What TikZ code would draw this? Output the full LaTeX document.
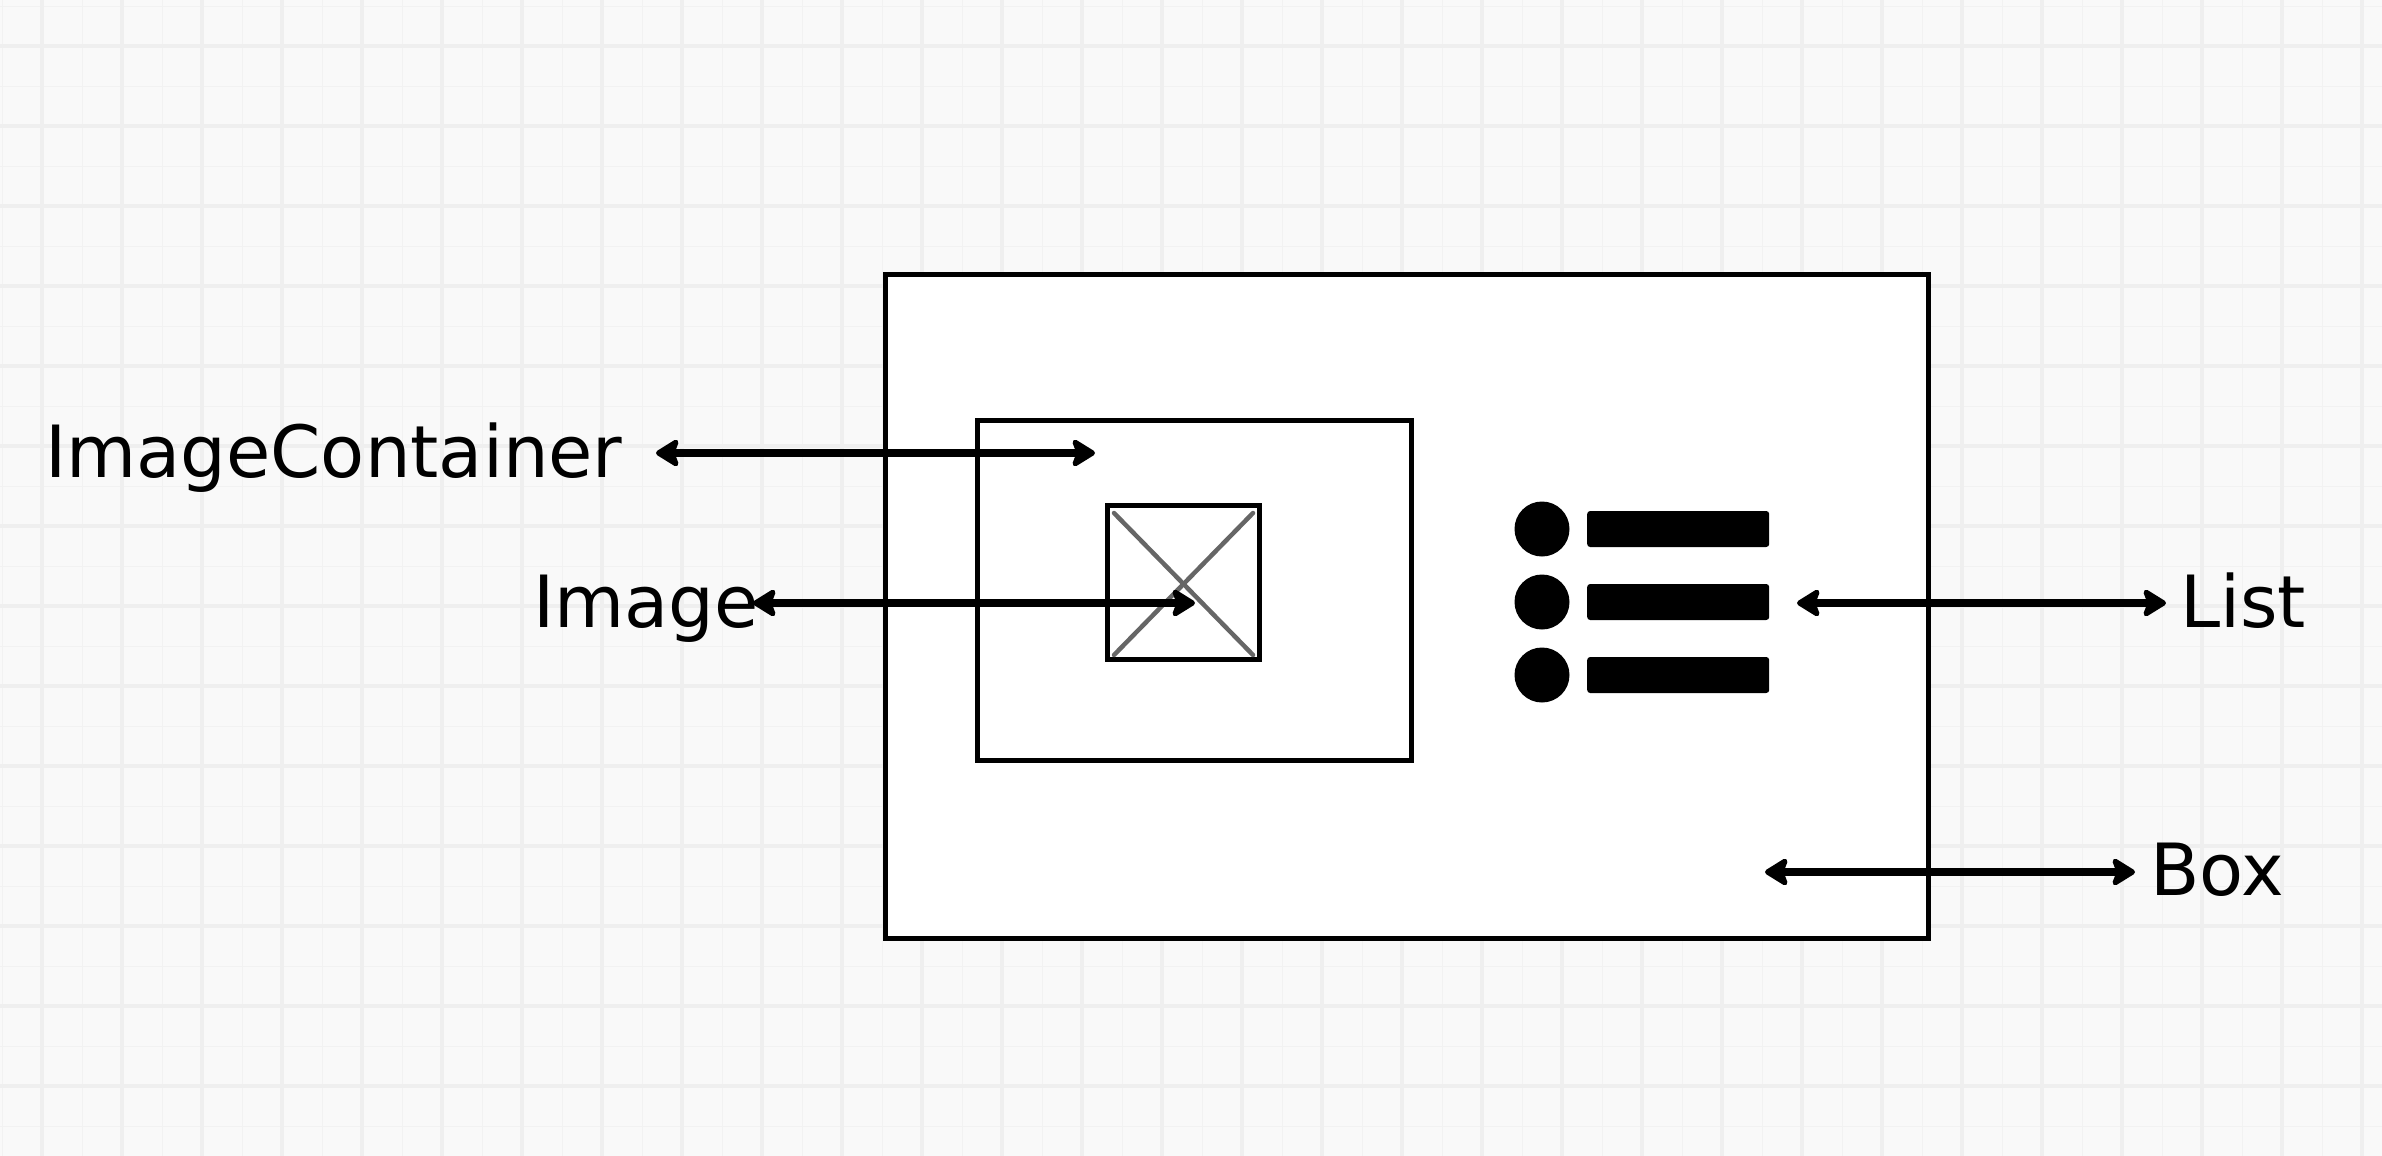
\documentclass[tikz,border=0pt]{standalone}
\usepackage{fontspec}
\setmainfont{DejaVu Sans}
\usetikzlibrary{arrows.meta,calc}
\definecolor{bgc}{HTML}{F9F9F9}
\definecolor{gridA}{HTML}{EFEFEF}
\definecolor{gridB}{HTML}{F2F2F2}
\definecolor{xgray}{HTML}{666666}
\begin{document}
\begin{tikzpicture}[x=1pt,y=-1pt,
  lbl/.style={anchor=base west, inner sep=0pt, font=\fontsize{72}{80}\selectfont},
  dbl/.style={line width=8pt,
    {Stealth[length=27pt,width=33pt,inset=6pt,round]}-{Stealth[length=27pt,width=33pt,inset=6pt,round]}},
  frame/.style={draw=black, line width=5pt, fill=white, inner sep=0pt, anchor=north west},
  bullet/.style={circle, fill=black, minimum size=55pt, inner sep=0pt},
  bar/.style={fill=black, rounded corners=3pt, minimum width=182pt, minimum height=36pt, inner sep=0pt, anchor=west},
]
\useasboundingbox (0,0) rectangle (2382,1156);
\fill[bgc] (0,0) rectangle (2382,1156);
% grid
\foreach \x in {2.3,82.3,...,2382} \draw[gridB, line width=1.2pt] (\x,0) -- (\x,1156);
\foreach \y in {6.7,86.7,...,1156} \draw[gridB, line width=1.2pt] (0,\y) -- (2382,\y);
\foreach \x in {42,122,...,2382} \draw[gridA, line width=4pt] (\x,0) -- (\x,1156);
\foreach \y in {46,126,...,1156} \draw[gridA, line width=4pt] (0,\y) -- (2382,\y);

% boxes
\node[frame, minimum width=1043pt, minimum height=664pt] (box) at (883,272) {};
\node[frame, minimum width=434pt, minimum height=340pt] (cont) at (975,418) {};
\node[frame, minimum width=152pt, minimum height=154pt] (img) at (1105,503) {};
\draw[xgray, line width=4.5pt, line cap=round]
  ($(img.north west)+(9,10)$) -- ($(img.south east)+(-9,-7)$);
\draw[xgray, line width=4.5pt, line cap=round]
  ($(img.north east)+(-9,10)$) -- ($(img.south west)+(9,-7)$);

% list icon
\node[bullet] (b1) at (1542,529) {};
\node[bullet] (b2) at (1542,602) {};
\node[bullet] (b3) at (1542,675) {};
\node[bar] (r1) at (1587,529) {};
\node[bar] (r2) at (1587,602) {};
\node[bar] (r3) at (1587,675) {};

% labels
\node[lbl] (tIC) at (45,477) {ImageContainer};
\node[lbl] (tImg) at (533,627) {Image};
\node[lbl] (tList) at (2180,627) {List};
\node[lbl] (tBox) at (2150,895) {Box};

% arrows
\coordinate (aIC1) at (656,453);
\coordinate (aIC2) at (1095,453);
\coordinate (aImg1) at (753,603);
\coordinate (aImg2) at (1195,603);
\coordinate (aL1) at (1797,603);
\coordinate (aL2) at (2166,603);
\coordinate (aB1) at (1765,872);
\coordinate (aB2) at (2135,872);
\draw[dbl] (aIC1) -- (aIC2);
\draw[dbl] (aImg1) -- (aImg2);
\draw[dbl] (aL1) -- (aL2);
\draw[dbl] (aB1) -- (aB2);
\end{tikzpicture}
\end{document}
